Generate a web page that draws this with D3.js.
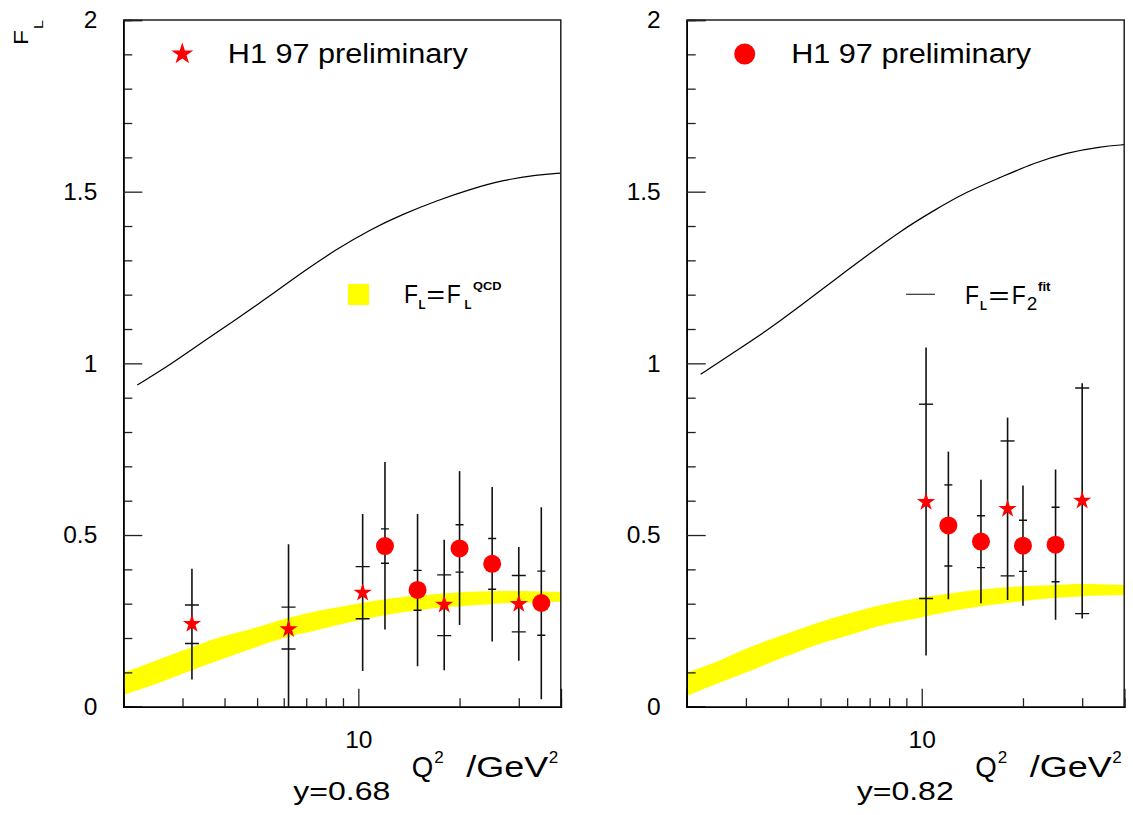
<!DOCTYPE html>
<html>
<head>
<meta charset="utf-8">
<script src="https://cdn.jsdelivr.net/npm/d3@7"></script>
<style>
  body { margin: 0; background: #fff; }
  svg { display: block; font-family: "Liberation Sans", Arial, sans-serif; }
</style>
</head>
<body>
<div id="container"></div>
<script>
/* DATA */
// F2 fit curve (F_L = F_2)
const q2Fit = [2.2, 2.75, 3.45, 4.35, 5.45, 6.85, 8.6, 10.8, 13.6, 17.1, 21.5, 27, 34, 40];
const f2FitY068 = [0.937, 0.995, 1.063, 1.129, 1.196, 1.267, 1.332, 1.389, 1.435, 1.474, 1.507, 1.534, 1.549, 1.554];
const f2FitY082 = [0.968, 1.031, 1.094, 1.167, 1.24, 1.313, 1.384, 1.444, 1.5, 1.541, 1.583, 1.614, 1.631, 1.637];

// QCD band (F_L = F_L^QCD), lower and upper edge
const q2Band = [2, 2.45, 3.08, 3.87, 4.86, 6.1, 7.68, 9.65, 12.1, 15.2, 19.2, 24.1, 30.3, 40];
const qcdLowY068 = [0.034, 0.063, 0.1, 0.136, 0.17, 0.202, 0.225, 0.248, 0.267, 0.282, 0.291, 0.298, 0.303, 0.306];
const qcdHighY068 = [0.099, 0.131, 0.167, 0.202, 0.228, 0.257, 0.28, 0.298, 0.314, 0.324, 0.332, 0.336, 0.337, 0.334];
const qcdLowY082 = [0.031, 0.066, 0.104, 0.143, 0.18, 0.209, 0.238, 0.257, 0.277, 0.293, 0.306, 0.316, 0.322, 0.325];
const qcdHighY082 = [0.099, 0.131, 0.173, 0.209, 0.243, 0.272, 0.298, 0.316, 0.33, 0.342, 0.35, 0.354, 0.357, 0.354];

// H1 97 preliminary points: stat = inner error, tot = full error
const pointsY068 = [
  {q2: 3.2,  fl: 0.241, stat: [0.184, 0.296], tot: [0.079, 0.402], mark: "star"},
  {q2: 6.2,  fl: 0.226, stat: [0.168, 0.290], tot: [0.0,   0.473], mark: "star"},
  {q2: 10.3, fl: 0.332, stat: [0.256, 0.408], tot: [0.104, 0.561], mark: "star"},
  {q2: 12,   fl: 0.468, stat: [0.418, 0.518], tot: [0.225, 0.713], mark: "circle"},
  {q2: 15,   fl: 0.340, stat: [0.281, 0.397], tot: [0.118, 0.561], mark: "circle"},
  {q2: 18,   fl: 0.297, stat: [0.207, 0.384], tot: [0.106, 0.486], mark: "star"},
  {q2: 20,   fl: 0.461, stat: [0.392, 0.530], tot: [0.238, 0.686], mark: "circle"},
  {q2: 25,   fl: 0.416, stat: [0.342, 0.490], tot: [0.190, 0.640], mark: "circle"},
  {q2: 30,   fl: 0.299, stat: [0.218, 0.382], tot: [0.134, 0.465], mark: "star"},
  {q2: 35,   fl: 0.302, stat: [0.208, 0.395], tot: [0.022, 0.581], mark: "circle"}
];
const pointsY082 = [
  {q2: 10.3, fl: 0.596, stat: [0.315, 0.881], tot: [0.149, 1.046], mark: "star"},
  {q2: 12,   fl: 0.528, stat: [0.410, 0.646], tot: [0.313, 0.743], mark: "circle"},
  {q2: 15,   fl: 0.481, stat: [0.405, 0.556], tot: [0.301, 0.661], mark: "circle"},
  {q2: 18,   fl: 0.576, stat: [0.381, 0.774], tot: [0.311, 0.842], mark: "star"},
  {q2: 20,   fl: 0.469, stat: [0.394, 0.543], tot: [0.294, 0.644], mark: "circle"},
  {q2: 25,   fl: 0.472, stat: [0.364, 0.581], tot: [0.253, 0.691], mark: "circle"},
  {q2: 30,   fl: 0.600, stat: [0.271, 0.928], tot: [0.257, 0.942], mark: "star"}
];

const yMajorTicks = [0, 0.5, 1, 1.5, 2];
const yMinorTicks = [0.1, 0.2, 0.3, 0.4, 0.6, 0.7, 0.8, 0.9, 1.1, 1.2, 1.3, 1.4, 1.6, 1.7, 1.8, 1.9];
const xMajorTicks = [10];
const xMinorTicks = [3, 4, 5, 6, 7, 8, 9, 20, 30];

/* CONSTANTS */
const width = 1133, height = 815;
const plotW = 437.5, plotH = 686.7, plotTop = 20;

const svg = d3.select("#container")
  .append("svg")
  .attr("width", width)
  .attr("height", height);

const xScale = d3.scaleLog().domain([2, 40]).range([0, plotW]);
const yScale = d3.scaleLinear().domain([0, 2]).range([plotH, 0]);

// text helper: stretched glyphs to mimic the wide plotting font
function label(parent, x, y, str, size, len) {
  const t = parent.append("text")
    .attr("x", x)
    .attr("y", y)
    .style("font-size", size + "px")
    .text(str);
  if (len) t.attr("textLength", len).attr("lengthAdjust", "spacingAndGlyphs");
  return t;
}

function drawPanel(cfg) {
  const g = svg.append("g").attr("transform", `translate(${cfg.left}, ${plotTop})`);

  g.append("clipPath").attr("id", cfg.id)
    .append("rect").attr("width", plotW).attr("height", plotH);

  const inner = g.append("g").attr("clip-path", `url(#${cfg.id})`);

  // yellow QCD band
  const band = q2Band.map((q, i) => ({q2: q, lo: cfg.bandLow[i], hi: cfg.bandHigh[i]}));
  inner.append("path")
    .datum(band)
    .attr("fill", "#ffff00")
    .attr("d", d3.area()
      .curve(d3.curveCatmullRom.alpha(0.5))
      .x(d => xScale(d.q2))
      .y0(d => yScale(d.lo))
      .y1(d => yScale(d.hi)));

  // F2 fit line
  const fit = q2Fit.map((q, i) => ({q2: q, v: cfg.fit[i]}));
  inner.append("path")
    .datum(fit)
    .attr("fill", "none")
    .attr("stroke", "#000")
    .attr("stroke-width", 1.2)
    .attr("d", d3.line()
      .curve(d3.curveBasis)
      .x(d => xScale(d.q2))
      .y(d => yScale(d.v)));

  // error bars
  const bars = inner.selectAll(".bar")
    .data(cfg.points)
    .join("g")
    .attr("class", "bar")
    .attr("transform", d => `translate(${xScale(d.q2)}, 0)`);

  bars.append("line")
    .attr("y1", d => yScale(d.tot[0]))
    .attr("y2", d => yScale(d.tot[1]))
    .attr("stroke", "#111")
    .attr("stroke-width", 1.6);

  bars.selectAll(".cap")
    .data(d => d.stat.map(v => ({v: v, w: d.mark === "star" ? 7 : 4})))
    .join("line")
    .attr("class", "cap")
    .attr("x1", d => -d.w)
    .attr("x2", d => d.w)
    .attr("y1", d => yScale(d.v))
    .attr("y2", d => yScale(d.v))
    .attr("stroke", "#111")
    .attr("stroke-width", 1.4);

  // markers
  inner.selectAll(".mark")
    .data(cfg.points)
    .join("path")
    .attr("class", "mark")
    .attr("transform", d => `translate(${xScale(d.q2)}, ${yScale(d.fl)})`)
    .attr("d", d => d.mark === "star"
      ? d3.symbol(d3.symbolStar, 104)()
      : d3.symbol(d3.symbolCircle, Math.PI * 81)())
    .attr("fill", "#ff0000");

  // axes
  const yAxisMajor = d3.axisLeft(yScale)
    .tickValues(yMajorTicks)
    .tickSize(-19)
    .tickPadding(26)
    .tickFormat(d => d);
  const yAxisMinor = d3.axisLeft(yScale)
    .tickValues(yMinorTicks)
    .tickSize(-9)
    .tickFormat("");
  const xAxisMajor = d3.axisBottom(xScale)
    .tickValues(xMajorTicks)
    .tickSize(-18)
    .tickPadding(24)
    .tickFormat(d => d);
  const xAxisMinor = d3.axisBottom(xScale)
    .tickValues(xMinorTicks)
    .tickSize(-8.5)
    .tickFormat("");

  g.append("g").call(yAxisMinor);
  g.append("g").call(yAxisMajor);
  g.append("g").attr("transform", `translate(0, ${plotH})`).call(xAxisMinor);
  g.append("g").attr("transform", `translate(0, ${plotH})`).call(xAxisMajor);

  g.selectAll(".domain").attr("stroke", "#000").attr("stroke-width", 1.6);
  g.selectAll(".tick line").attr("stroke", "#222").attr("stroke-width", 1.3);
  g.selectAll(".tick text")
    .attr("fill", "#000")
    .style("font-size", "24.5px")
    .style("font-family", "Liberation Sans, Arial, sans-serif");

  // frame (top and right)
  g.append("path")
    .attr("d", `M0,0H${plotW}V${plotH}`)
    .attr("fill", "none")
    .attr("stroke", "#222")
    .attr("stroke-width", 1.5);

  // legend: data marker
  const lg = svg.append("g");
  if (cfg.legendMark === "star") {
    lg.append("path")
      .attr("transform", `translate(${cfg.left + 59}, 54)`)
      .attr("d", d3.symbol(d3.symbolStar, 150)())
      .attr("fill", "#ff0000");
  } else {
    lg.append("circle")
      .attr("cx", cfg.left + 58)
      .attr("cy", 54)
      .attr("r", 10.5)
      .attr("fill", "#ff0000");
  }
  label(lg, cfg.left + 104.5, 63.3, "H1 97 preliminary", 27, 240);

  // x axis title
  const t = svg.append("g").attr("transform", `translate(${cfg.left}, 0)`);
  label(t, 288.5, 776.7, "Q", 30, 21.5);
  label(t, 311, 763, "2", 17, 9.5);
  label(t, 343, 776.7, "/GeV", 30, 82);
  label(t, 425.5, 763, "2", 17, 9.5);

  // y value label under the axis
  label(t, 170, 800, cfg.yLabel, 25.5, 97);
}

drawPanel({
  id: "clipA", left: 123.3, fit: f2FitY068,
  bandLow: qcdLowY068, bandHigh: qcdHighY068,
  points: pointsY068, legendMark: "star", yLabel: "y=0.68"
});
drawPanel({
  id: "clipB", left: 686.7, fit: f2FitY082,
  bandLow: qcdLowY082, bandHigh: qcdHighY082,
  points: pointsY082, legendMark: "circle", yLabel: "y=0.82"
});

// y axis title F_L (rotated)
svg.append("text")
  .attr("transform", "translate(28, 45) rotate(-90)")
  .attr("textLength", 15)
  .attr("lengthAdjust", "spacingAndGlyphs")
  .style("font-size", "21px")
  .text("F");
svg.append("text")
  .attr("transform", "translate(43, 29) rotate(-90)")
  .attr("textLength", 9)
  .attr("lengthAdjust", "spacingAndGlyphs")
  .style("font-size", "12px")
  .text("L");

// band legend (left panel)
const bandKey = svg.append("g");
bandKey.append("rect")
  .attr("x", 348).attr("y", 284).attr("width", 21).attr("height", 21)
  .attr("fill", "#ffff00");
label(bandKey, 404, 303, "F", 25, 14);
label(bandKey, 418.5, 308.5, "L", 12, 7).style("font-weight", "bold");
label(bandKey, 426.5, 303, "=", 25, 18.5);
label(bandKey, 446.7, 303, "F", 25, 14);
label(bandKey, 464.5, 308.5, "L", 12, 7).style("font-weight", "bold");
label(bandKey, 473, 290, "QCD", 11.5, 28.5).style("font-weight", "bold");

// line legend (right panel)
const lineKey = svg.append("g");
lineKey.append("line")
  .attr("x1", 906).attr("x2", 935).attr("y1", 294.3).attr("y2", 294.3)
  .attr("stroke", "#333").attr("stroke-width", 1.2);
label(lineKey, 965, 304.3, "F", 25, 14);
label(lineKey, 980, 310, "L", 12, 7).style("font-weight", "bold");
label(lineKey, 988.5, 304.3, "=", 25, 21);
label(lineKey, 1011.7, 304.3, "F", 25, 14);
label(lineKey, 1026.7, 310, "2", 18, 10.5);
label(lineKey, 1038, 291, "fit", 12, 12.5).style("font-weight", "bold");
</script>
</body>
</html>
